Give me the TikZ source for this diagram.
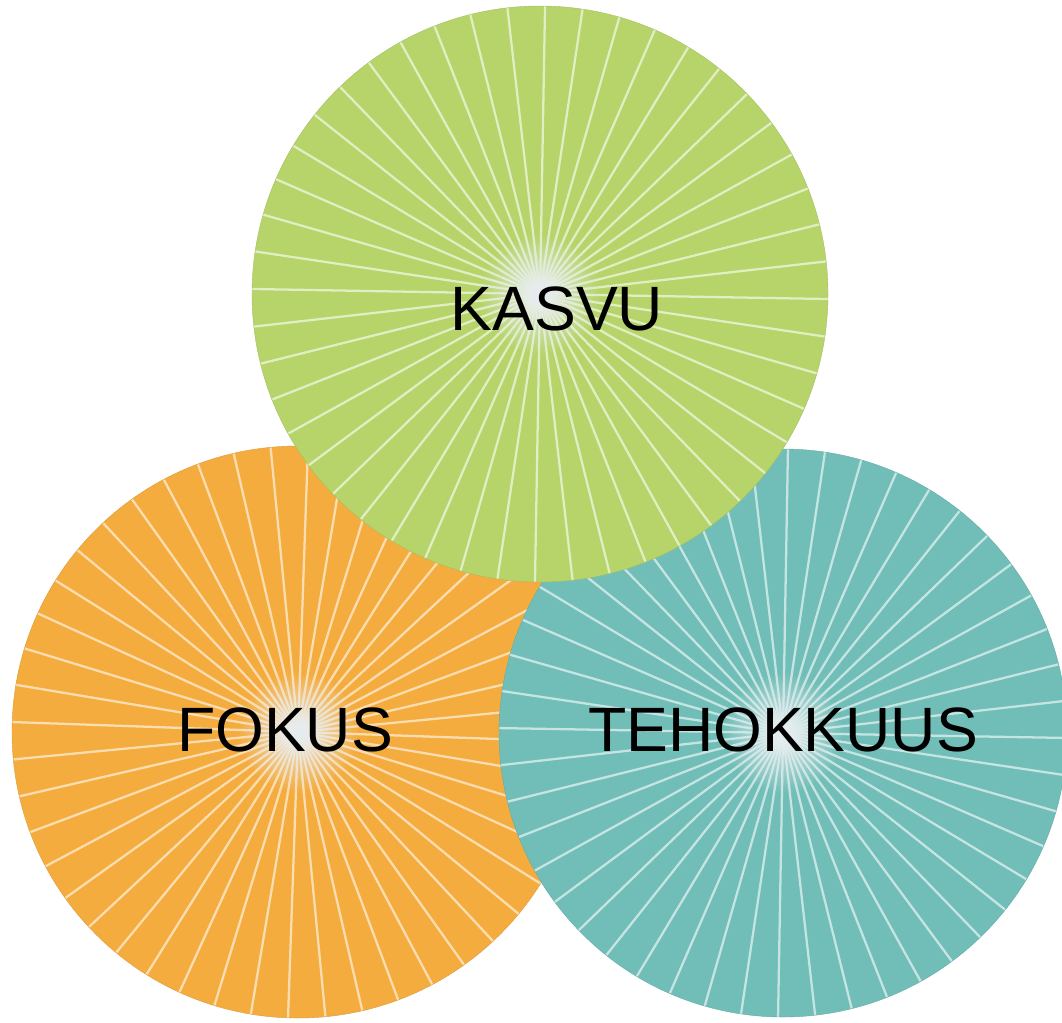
\documentclass[tikz,border=0pt]{standalone}
\usepackage{fontspec}
\usetikzlibrary{fadings}
\setmainfont{Liberation Sans}
\definecolor{cgreen}{RGB}{182,212,106}
\definecolor{corange}{RGB}{245,172,62}
\definecolor{cteal}{RGB}{113,190,184}
\definecolor{cglow}{RGB}{228,235,238}
\tikzfading[name=glowfade, inner color=transparent!0, outer color=transparent!100]
\tikzset{
  spoke/.style={white, opacity=0.6, line width=1.7pt},
  lbl/.style={font=\fontsize{47}{56}\selectfont, text=black, inner sep=0pt},
  rim/.style={draw=#1!90!black, line width=0.3pt}
}
\newcommand\radialdisc[5]{% x, y, r, colour, angle offset
  \begin{scope}
    \fill[#4] (#1,#2) circle (#3);
    \clip (#1,#2) circle (#3);
    \foreach \a in {0,7.5,...,355} \draw[spoke] (#1,#2) -- ++(\a+#5:#3);
    \fill[cglow, path fading=glowfade] (#1,#2) circle (60);
  \end{scope}
  \draw[rim=#4] (#1,#2) circle (#3);
}
\begin{document}
\begin{tikzpicture}[x=0.75pt,y=-0.75pt]
\useasboundingbox (0,0) rectangle (1062,1022);
\radialdisc{298}{732}{286}{corange}{2}
\radialdisc{783}{733}{284}{cteal}{1}
\radialdisc{540}{294}{288}{cgreen}{1}
\node[lbl] (kasvu) at (557,309) {KASVU};
\node[lbl] (fokus) at (285,730) {FOKUS};
\node[lbl] (tehokkuus) at (783,730) {TEHOKKUUS};
\end{tikzpicture}
\end{document}
